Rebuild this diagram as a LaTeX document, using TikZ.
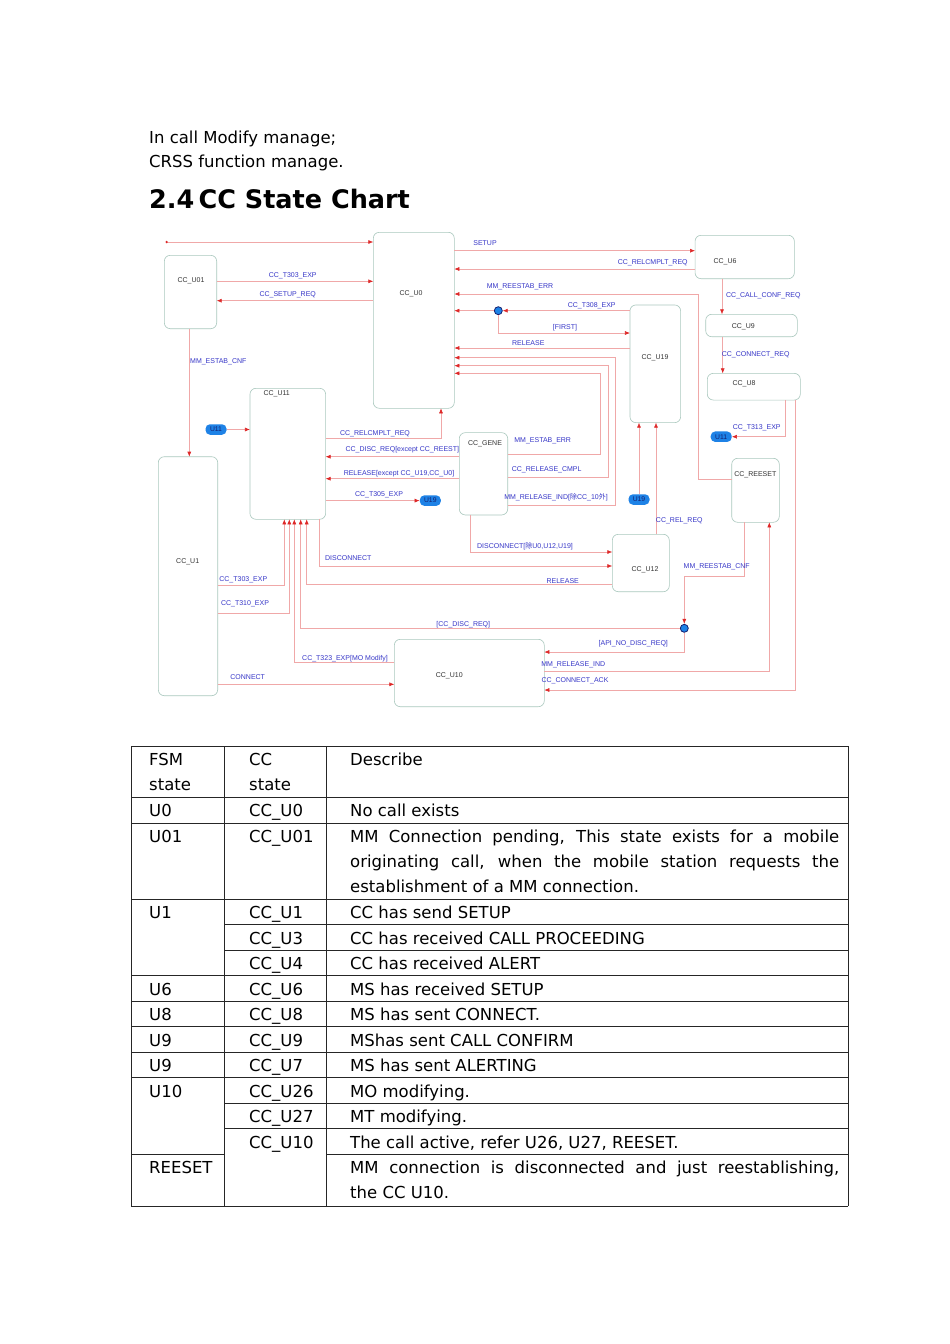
\documentclass[tikz,border=0pt]{standalone}
\usepackage{fontspec}
\setmainfont{DejaVu Sans}
\newfontfamily\diagfont{Liberation Sans}
\newfontfamily\cjkfont{Noto Sans CJK SC}
\usetikzlibrary{arrows.meta,positioning,calc}
\definecolor{linered}{RGB}{240,168,168}
\definecolor{tipred}{RGB}{222,40,40}
\definecolor{lblblue}{RGB}{55,55,200}
\definecolor{boxline}{RGB}{170,200,190}
\definecolor{blobblue}{RGB}{30,130,230}
\definecolor{navy}{RGB}{20,30,110}
\tikzset{
  st/.style={draw=boxline,rounded corners=6pt,inner sep=0pt,outer sep=0pt,line width=0.6pt},
  sn/.style={font=\diagfont\fontsize{7}{8}\selectfont,text=black!80,inner sep=0pt},
  lb/.style={font=\diagfont\fontsize{7}{8}\selectfont,text=lblblue,inner sep=0pt},
  tr/.style={draw=linered,line width=0.6pt,-{Latex[length=5pt,width=4pt,color=tipred]}},
  blob/.style={fill=blobblue,rounded corners=4.5pt,minimum width=21pt,minimum height=10.5pt,inner sep=0pt,font=\diagfont\fontsize{6.8}{7}\selectfont,text=navy},
  conn/.style={circle,fill=blobblue,draw=navy,line width=0.8pt,minimum size=8pt,inner sep=0pt},
  initdot/.style={circle,fill=tipred,minimum size=2.6pt,inner sep=0pt},
  body/.style={font=\fontsize{16.5}{24.8}\selectfont,inner sep=0pt,anchor=base west},
  grid/.style={draw=black!85,line width=0.8pt}
}

\begin{document}
\begin{tikzpicture}[x=1pt,y=-1pt]
\useasboundingbox[fill=white] (0,0) rectangle (950,1344);

\node[body] (t1) at (149,143) {In call Modify manage;};
\node[body] (t2) at (149,167) {CRSS function manage.};
\node[body,font=\fontsize{25.5}{30}\selectfont\bfseries] (head) at (149,208) {2.4\,CC State Chart};

\foreach \n/\cx/\cy/\w/\h/\lx/\ly/\t in {
  u01/190.5/292/52.4/73.4/191/280.3/CC\_U01,
  u0/413.8/320.3/81/176/411/294/CC\_U0,
  u6/744.7/257/99.3/43.4/725/261.3/CC\_U6,
  u9/751.5/325.5/91.6/22.4/743.3/326.7/CC\_U9,
  u8/753.8/386.7/93/26.7/744/383.7/CC\_U8,
  u19/655.3/363.8/50.7/117.7/655/357.3/CC\_U19,
  u11/287.8/453.8/75.7/131/276.7/393.3/CC\_U11,
  gene/483.5/473.8/48.4/82.3/485/444/CC\_GENE,
  reeset/755.5/490.3/47.6/64/755.3/475/CC\_REESET,
  u1/188/576.2/59.4/239/187.7/562/CC\_U1,
  u12/640.8/563/57/57.4/645/570/CC\_U12,
  u10/469.3/673/150/67.4/449.3/675.7/CC\_U10}
{\node[st,minimum width=\w pt,minimum height=\h pt] (\n) at (\cx,\cy) {};
 \node[sn] (\n-t) at (\lx,\ly) {\t};}

\node[initdot] (init) at (166.7,242) {};
\node[conn] (c1) at (498.3,310.7) {};
\node[conn] (c2) at (684.3,628.3) {};
\node[blob] (bu11l) at (216,429.5) {U11};
\node[blob] (bu11r) at (721.2,436.7) {U11};
\node[blob] (bu19l) at (430.3,500.6) {U19};
\node[blob] (bu19b) at (639,499.5) {U19};

\draw[tr] (init) -- (u0.west |- init);
\draw[tr] (u01.east |- 0,281.3) -- (u0.west |- 0,281.3);
\draw[tr] (u0.west |- 0,300.7) -- (u01.east |- 0,300.7);
\draw[tr] (u01.south -| 189.3,0) -- (u1.north -| 189.3,0);
\draw[tr] (u0.east |- 0,250.7) -- (u6.west |- 0,250.7);
\draw[tr] (u6.west |- 0,269) -- (u0.east |- 0,269);
\draw[tr] (reeset.west |- 0,479.3) -| (698.3,294) -- (u0.east |- 0,294);
\draw[tr] (u19.west |- c1) -- (c1);
\draw[tr] (c1) -- (u0.east |- c1);
\draw[tr] (c1) |- (u19.west |- 0,333);
\draw[tr] (u19.west |- 0,348) -- (u0.east |- 0,348);
\draw[tr] (gene.east |- 0,505) -| (615,357.7) -- (u0.east |- 0,357.7);
\draw[tr] (gene.east |- 0,477.7) -| (608.3,365.7) -- (u0.east |- 0,365.7);
\draw[tr] (gene.east |- 0,454.3) -| (600.7,373.3) -- (u0.east |- 0,373.3);
\draw[tr] (u6.south -| 722,0) -- (u9.north -| 722,0);
\draw[tr] (u9.south -| 722.7,0) -- (u8.north -| 722.7,0);
\draw[tr] (u8.south -| 785.7,0) |- (bu11r.east);
\draw[tr] (u8.south -| 795.7,0) |- (u10.east |- 0,690);
\draw[tr] (u10.east |- 0,671) -| (reeset.south -| 769.3,0);
\draw[tr] (reeset.south -| 744.3,0) |- (684.3,576) -- (c2);
\draw[tr] (c2) -| (u11.south -| 300.7,0);
\draw[tr] (c2) |- (u10.east |- 0,652);
\draw[tr] (u10.west |- 0,662.3) -| (u11.south -| 294.3,0);
\draw[tr] (u1.east |- 0,684.3) -- (u10.west |- 0,684.3);
\draw[tr] (u1.east |- 0,585) -| (u11.south -| 284.3,0);
\draw[tr] (u1.east |- 0,613.3) -| (u11.south -| 289.3,0);
\draw[tr] (u12.west |- 0,584.3) -| (u11.south -| 306.7,0);
\draw[tr] (u11.south -| 319.3,0) |- (u12.west |- 0,566);
\draw[tr] (gene.south -| 470.7,0) |- (u12.west |- 0,552);
\draw[tr] (u12.north -| 656,0) -- (u19.south -| 656,0);
\draw[tr] (bu19b) -- (u19.south -| bu19b);
\draw[tr] (bu11l) -- (u11.west |- bu11l);
\draw[tr] (u11.east |- 0,438.3) -| (u0.south -| 441,0);
\draw[tr] (gene.west |- 0,456.7) -- (u11.east |- 0,456.7);
\draw[tr] (gene.west |- 0,478.7) -- (u11.east |- 0,478.7);
\draw[tr] (u11.east |- 0,500.6) -- (bu19l);

\foreach \x/\y/\t [count=\i] in {
  292.7/275.3/CC\_T303\_EXP, 287.7/294.3/CC\_SETUP\_REQ, 218.3/361.3/MM\_ESTAB\_CNF,
  485/243.3/SETUP, 652.7/262.3/CC\_RELCMPLT\_REQ, 520/286.7/MM\_REESTAB\_ERR,
  591.7/305.3/CC\_T308\_EXP, 565/327.3/[FIRST], 528.3/343.3/RELEASE,
  763.3/296/CC\_CALL\_CONF\_REQ, 755.7/354.3/CC\_CONNECT\_REQ,
  375/433.3/CC\_RELCMPLT\_REQ, 402.3/449.3/CC\_DISC\_REQ[except CC\_REEST],
  399/473.3/{RELEASE[except CC\_U19,CC\_U0]}, 379/495/CC\_T305\_EXP,
  542.7/440.7/MM\_ESTAB\_ERR, 546.7/470/CC\_RELEASE\_CMPL,
  556/497.7/MM\_RELEASE\_IND[{\cjkfont 除}CC\_10{\cjkfont 外}],
  756.7/427.3/CC\_T313\_EXP, 679.3/520.7/CC\_REL\_REQ,
  525/546/{DISCONNECT[{\cjkfont 除}U0,U12,U19]}, 348.3/558.3/DISCONNECT,
  716.7/566.7/MM\_REESTAB\_CNF, 243.3/580/CC\_T303\_EXP, 562.7/580.7/RELEASE,
  245/604/CC\_T310\_EXP, 463.3/624.3/[CC\_DISC\_REQ], 633.3/643.3/[API\_NO\_DISC\_REQ],
  345/658.3/CC\_T323\_EXP[MO Modify], 573.3/665/MM\_RELEASE\_IND,
  247.7/676.7/CONNECT, 575/680.7/CC\_CONNECT\_ACK}
{\node[lb] (lab\i) at (\x,\y) {\t};}

\foreach \y in {746,797,823,899,975.5,1001,1026.5,1052,1077.5,1206} \draw[grid] (131,\y) -- (848,\y);
\foreach \y in {924.5,950,1103,1128.5} \draw[grid] (224,\y) -- (848,\y);
\draw[grid] (131,1154) -- (224,1154) (326,1154) -- (848,1154);
\foreach \x in {131,224,326,848} \draw[grid] (\x,746) -- (\x,1206);

\foreach \x/\y/\t [count=\i] in {
  149/765.5/FSM, 149/790.3/state, 249/765.5/CC, 249/790.3/state, 350/765.5/Describe,
  149/816.5/U0, 249/816.5/CC\_U0, 350/816.5/No call exists,
  149/842.5/U01, 249/842.5/CC\_U01,
  149/918.5/U1, 249/918.5/CC\_U1, 350/918.5/CC has send SETUP,
  249/944/CC\_U3, 350/944/CC has received CALL PROCEEDING,
  249/969.5/CC\_U4, 350/969.5/CC has received ALERT,
  149/995/U6, 249/995/CC\_U6, 350/995/MS has received SETUP,
  149/1020.5/U8, 249/1020.5/CC\_U8, 350/1020.5/MS has sent CONNECT.,
  149/1046/U9, 249/1046/CC\_U9, 350/1046/MShas sent CALL CONFIRM,
  149/1071.5/U9, 249/1071.5/CC\_U7, 350/1071.5/MS has sent ALERTING,
  149/1097/U10, 249/1097/CC\_U26, 350/1097/MO modifying.,
  249/1122.5/CC\_U27, 350/1122.5/MT modifying.,
  249/1148/CC\_U10, 350/1148/{The call active, refer U26, U27, REESET.},
  149/1173.5/REESET}
{\node[body] (cell\i) at (\x,\y) {\t};}
\node[body,anchor=north west,text width=489pt,align=justify] (u01desc) at (350,825.1)
  {\strut MM Connection pending, This state exists for a mobile\linebreak originating call, when the mobile station requests the\linebreak establishment of a MM connection.};
\node[body,anchor=north west,text width=489pt,align=justify] (reesetdesc) at (350,1156.1)
  {\strut MM connection is disconnected and just reestablishing,\linebreak the CC U10.};
\end{tikzpicture}
\end{document}
